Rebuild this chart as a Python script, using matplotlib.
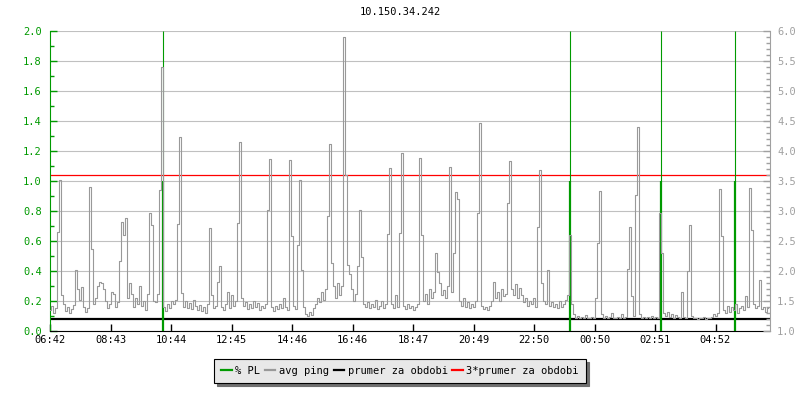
import matplotlib
matplotlib.use("Agg")
import numpy as np
import matplotlib.pyplot as plt
import matplotlib.ticker as mticker

# chart data
title = "10.150.34.242"
tick_labels = ["06:42", "08:43", "10:44", "12:45", "14:46", "16:46",
               "18:47", "20:49", "22:50", "00:50", "02:51", "04:52"]
tick_step = 121      # minutes between time labels
ping_step = 4        # minutes between ping samples

# avg ping (right axis), one value every 4 minutes from 06:42
ping_ms = [
    1.35, 1.42, 1.30, 1.38, 2.65, 3.52, 1.60, 1.45, 1.33, 1.40, 1.30, 1.36, 1.44, 2.02, 1.70, 1.52, 1.73, 1.40, 1.32, 1.38,
    3.40, 2.37, 1.45, 1.55, 1.75, 1.82, 1.80, 1.70, 1.50, 1.38, 1.45, 1.65, 1.62, 1.40, 1.48, 2.17, 2.82, 2.60, 2.88, 1.55,
    1.80, 1.62, 1.40, 1.55, 1.45, 1.75, 1.42, 1.50, 1.35, 1.62, 2.97, 2.77, 1.50, 1.48, 1.62, 3.35, 5.40, 1.40, 1.33, 1.45,
    1.38, 1.50, 1.45, 1.52, 2.78, 4.23, 1.63, 1.40, 1.50, 1.38, 1.47, 1.36, 1.52, 1.42, 1.35, 1.44, 1.33, 1.40, 1.30, 1.45,
    2.72, 1.60, 1.38, 1.42, 1.82, 2.08, 1.40, 1.35, 1.45, 1.65, 1.38, 1.60, 1.42, 1.50, 2.80, 4.15, 1.55, 1.42, 1.48, 1.36,
    1.45, 1.38, 1.50, 1.40, 1.46, 1.35, 1.42, 1.38, 1.45, 3.02, 3.87, 1.40, 1.33, 1.42, 1.36, 1.45, 1.38, 1.55, 1.40, 1.35,
    3.85, 2.58, 1.42, 1.36, 2.43, 3.52, 2.02, 1.40, 1.28, 1.25, 1.32, 1.27, 1.38, 1.45, 1.55, 1.48, 1.65, 1.52, 1.70, 2.92,
    4.12, 2.13, 1.75, 1.55, 1.80, 1.60, 1.75, 5.90, 3.60, 2.10, 1.95, 1.70, 1.50, 1.62, 2.08, 3.02, 2.23, 1.45, 1.40, 1.48,
    1.38, 1.45, 1.40, 1.52, 1.36, 1.42, 1.50, 1.38, 1.45, 2.62, 3.72, 1.45, 1.38, 1.60, 1.40, 2.63, 3.97, 1.42, 1.36, 1.45,
    1.38, 1.42, 1.35, 1.40, 1.45, 3.88, 2.60, 1.50, 1.62, 1.45, 1.70, 1.55, 1.65, 2.30, 1.98, 1.80, 1.60, 1.68, 1.55, 1.75,
    3.73, 1.65, 2.30, 3.32, 3.20, 1.50, 1.42, 1.55, 1.40, 1.48, 1.38, 1.45, 1.40, 1.50, 2.97, 4.47, 1.42, 1.36, 1.40, 1.35,
    1.42, 1.50, 1.82, 1.55, 1.65, 1.50, 1.70, 1.58, 1.62, 3.13, 3.83, 1.70, 1.60, 1.78, 1.55, 1.72, 1.60, 1.48, 1.55, 1.42,
    1.50, 1.45, 1.55, 1.40, 2.73, 3.68, 1.80, 1.50, 1.45, 2.02, 1.42, 1.48, 1.40, 1.45, 1.38, 1.50, 1.40, 1.45, 1.52, 1.60,
    2.60, 1.45, 1.28, 1.22, 1.25, 1.21, 1.23, 1.22, 1.26, 1.21, 1.22, 1.24, 1.22, 1.55, 2.47, 3.33, 1.28, 1.22, 1.25, 1.21,
    1.23, 1.30, 1.22, 1.21, 1.24, 1.22, 1.28, 1.21, 1.23, 2.03, 2.73, 1.58, 1.25, 3.27, 4.40, 1.28, 1.22, 1.24, 1.21, 1.23,
    1.22, 1.25, 1.21, 1.24, 1.22, 2.97, 2.30, 1.30, 1.25, 1.32, 1.24, 1.28, 1.22, 1.26, 1.23, 1.22, 1.65, 1.24, 1.22, 2.00,
    2.77, 1.25, 1.21, 1.22, 1.20, 1.22, 1.21, 1.23, 1.20, 1.22, 1.21, 1.24, 1.28, 1.25, 1.30, 3.37, 2.58, 1.35, 1.30, 1.42,
    1.32, 1.40, 1.35, 1.45, 1.30, 1.38, 1.42, 1.35, 1.58, 1.40, 3.38, 2.68, 1.45, 1.38, 1.42, 1.85, 1.36, 1.40, 1.32, 1.38,
]

# packet loss events (minutes after 06:42) and loss fraction
pl_minutes = [226, 1040, 1222, 1370]
pl_loss = [1.0, 1.0, 1.0, 1.0]

avg_ping = 1.2   # "prumer za obdobi"

green = "#009a00"
gray = "#999999"
axis_gray = "#a0a0a0"

plt.rcParams["font.family"] = ["DejaVu Sans Mono"]
plt.rcParams["font.size"] = 7.5

fig = plt.figure(figsize=(8, 4), dpi=100)
ax = fig.add_axes([50 / 800, 69 / 400, 720 / 800, 300 / 400])
ax2 = ax.twinx()

ax.set_xlim(0, 1440)
ax.set_ylim(0, 2)
ax2.set_ylim(1, 6)


def to_left(ms):
    # right axis (1..6) -> left axis (0..2)
    return (ms - 1) / 2.5


# average lines (left axis so the PL lines go over them)
ax.axhline(to_left(avg_ping), color="black", lw=1.6, zorder=2)
ax.axhline(to_left(3 * avg_ping), color="#ff0000", lw=0.9, zorder=2)

# packet loss
ax.vlines(pl_minutes, 0, pl_loss, color=green, lw=1.6, zorder=3)
ax.vlines(pl_minutes, pl_loss, 2, color=green, lw=0.8, zorder=3)

# avg ping, drawn as steps like rrdtool
t = np.arange(len(ping_ms)) * ping_step
ax2.plot(t, ping_ms, color=gray, lw=0.8, drawstyle="steps-mid", zorder=4)

# grid + axes styling
ax.yaxis.set_major_locator(mticker.MultipleLocator(0.2))
ax.yaxis.set_minor_locator(mticker.MultipleLocator(0.1))
ax.yaxis.set_major_formatter(mticker.FormatStrFormatter("%.1f"))
ax.grid(axis="y", color="#c0c0c0", lw=0.8)
ax.set_axisbelow(True)

ax.set_xticks([k * tick_step for k in range(len(tick_labels))])
ax.set_xticklabels(tick_labels)

ax.tick_params(axis="y", which="both", direction="in", color=green,
               labelcolor=green, width=1, pad=6)
ax.tick_params(axis="y", which="major", length=5)
ax.tick_params(axis="y", which="minor", length=3)
ax.tick_params(axis="x", direction="in", length=5, width=1, color="black", pad=3)

ax2.yaxis.set_major_locator(mticker.MultipleLocator(0.5))
ax2.yaxis.set_minor_locator(mticker.MultipleLocator(0.1))
ax2.yaxis.set_major_formatter(mticker.FormatStrFormatter("%.1f"))
ax2.tick_params(axis="y", which="both", direction="in", color=axis_gray,
                labelcolor=axis_gray, width=1, pad=5)
ax2.tick_params(axis="y", which="major", length=5)
ax2.tick_params(axis="y", which="minor", length=3)

for a in (ax, ax2):
    a.spines["top"].set_visible(False)
ax.spines["right"].set_visible(False)
ax.spines["left"].set_color(green)
ax.spines["bottom"].set_color("black")
ax2.spines["left"].set_visible(False)
ax2.spines["bottom"].set_visible(False)
ax2.spines["right"].set_color(axis_gray)

fig.text(0.5, 1 - 12 / 400, title, ha="center", va="center", fontsize=7.5)

leg = fig.legend([plt.Line2D([], [], color=green, lw=1.6),
                  plt.Line2D([], [], color=gray, lw=1.6),
                  plt.Line2D([], [], color="black", lw=1.6),
                  plt.Line2D([], [], color="#ff0000", lw=1.6)],
                 ["% PL", "avg ping", "prumer za obdobi", "3*prumer za obdobi"],
                 loc="center", bbox_to_anchor=(0.5, 1 - 371 / 400),
                 bbox_transform=fig.transFigure, ncol=4, fancybox=False,
                 shadow={"ox": 2.2, "oy": -2.2, "color": "#707070", "alpha": 1},
                 edgecolor="black", facecolor="#e8e8e8", framealpha=1,
                 handlelength=1.0, handletextpad=0.35, columnspacing=0.45,
                 borderpad=0.65, borderaxespad=0, fontsize=7.5)
leg.get_frame().set_linewidth(0.8)

fig.savefig("out.png", dpi=100)
